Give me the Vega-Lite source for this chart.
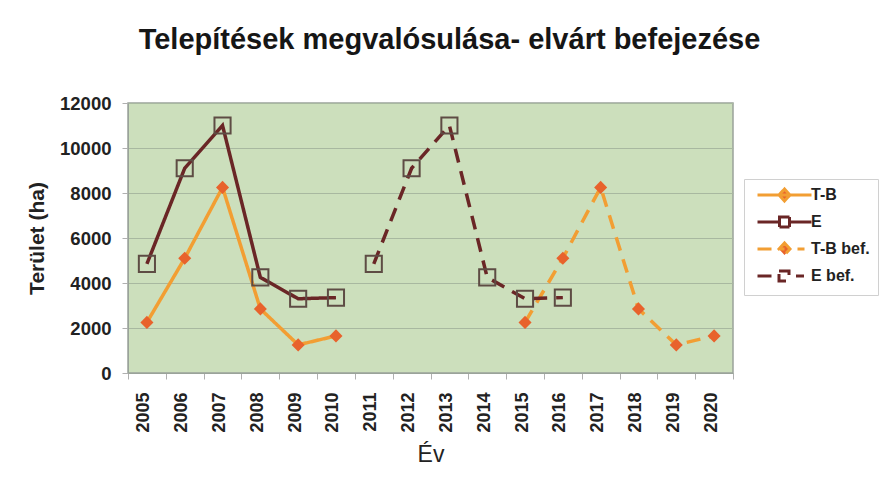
{
  "$schema": "https://vega.github.io/schema/vega-lite/v6.json",
  "width": 605,
  "height": 270,
  "autosize": "none",
  "padding": {"left": 128, "top": 103, "right": 150, "bottom": 104},
  "background": "white",
  "title": {
    "text": "Telepítések megvalósulása- elvárt befejezése",
    "font": "Liberation Sans",
    "fontSize": 29,
    "fontWeight": "bold",
    "color": "#161616",
    "anchor": "middle",
    "baseline": "alphabetic",
    "offset": 16,
    "dx": 19
  },
  "config": {
    "view": {"fill": "#CCDFBC", "stroke": "#9AA39A", "strokeWidth": 1.5},
    "font": "Liberation Sans"
  },
  "data": {
    "values": [
      {"year": "2005", "series": "T-B", "value": 2250},
      {"year": "2006", "series": "T-B", "value": 5100},
      {"year": "2007", "series": "T-B", "value": 8250},
      {"year": "2008", "series": "T-B", "value": 2850},
      {"year": "2009", "series": "T-B", "value": 1250},
      {"year": "2010", "series": "T-B", "value": 1650},
      {"year": "2005", "series": "E", "value": 4850},
      {"year": "2006", "series": "E", "value": 9100},
      {"year": "2007", "series": "E", "value": 11000},
      {"year": "2008", "series": "E", "value": 4250},
      {"year": "2009", "series": "E", "value": 3300},
      {"year": "2010", "series": "E", "value": 3350},
      {"year": "2015", "series": "T-B bef.", "value": 2250},
      {"year": "2016", "series": "T-B bef.", "value": 5100},
      {"year": "2017", "series": "T-B bef.", "value": 8250},
      {"year": "2018", "series": "T-B bef.", "value": 2850},
      {"year": "2019", "series": "T-B bef.", "value": 1250},
      {"year": "2020", "series": "T-B bef.", "value": 1650},
      {"year": "2011", "series": "E bef.", "value": 4850},
      {"year": "2012", "series": "E bef.", "value": 9100},
      {"year": "2013", "series": "E bef.", "value": 11000},
      {"year": "2014", "series": "E bef.", "value": 4250},
      {"year": "2015", "series": "E bef.", "value": 3300},
      {"year": "2016", "series": "E bef.", "value": 3350}
    ]
  },
  "encoding": {
    "x": {
      "field": "year",
      "type": "ordinal",
      "bandPosition": 0.5,
      "scale": {
        "type": "band",
        "paddingInner": 0,
        "paddingOuter": 0,
        "domain": ["2005","2006","2007","2008","2009","2010","2011","2012","2013","2014","2015","2016","2017","2018","2019","2020"]
      },
      "axis": {
        "title": "Év",
        "titleFont": "Liberation Sans",
        "titleFontSize": 23,
        "titleFontWeight": "normal",
        "titleColor": "#222222",
        "titlePadding": 11,
        "labelAngle": 270,
        "labelFont": "Liberation Sans",
        "labelFontSize": 18,
        "labelFontWeight": "bold",
        "labelColor": "#222222",
        "labelPadding": 13,
        "labelOffset": -3,
        "tickBand": "extent",
        "tickColor": "#B0B0B0",
        "tickSize": 6,
        "domainColor": "#9AA39A",
        "grid": false
      }
    },
    "y": {
      "field": "value",
      "type": "quantitative",
      "scale": {"domain": [0, 12000], "nice": false},
      "axis": {
        "title": "Terület (ha)",
        "titleFont": "Liberation Sans",
        "titleFontSize": 21,
        "titleFontWeight": "bold",
        "titleColor": "#222222",
        "titlePadding": 12,
        "values": [0, 2000, 4000, 6000, 8000, 10000, 12000],
        "format": "d",
        "labelFont": "Liberation Sans",
        "labelFontSize": 18.5,
        "labelFontWeight": "bold",
        "labelColor": "#222222",
        "labelPadding": 11,
        "tickColor": "#B0B0B0",
        "tickSize": 6,
        "domainColor": "#9AA39A",
        "grid": true,
        "gridColor": "#A8B8A0",
        "gridWidth": 1
      }
    }
  },
  "layer": [
    {
      "mark": {"type": "line", "strokeWidth": 3.5},
      "encoding": {
        "stroke": {
          "field": "series",
          "type": "nominal",
          "scale": {
            "domain": ["T-B", "E", "T-B bef.", "E bef."],
            "range": ["#F29E33", "#6A2626", "#F29E33", "#6A2626"]
          }
        },
        "strokeDash": {
          "field": "series",
          "type": "nominal",
          "scale": {
            "domain": ["T-B", "E", "T-B bef.", "E bef."],
            "range": [[1, 0], [1, 0], [14, 9], [14, 9]]
          },
          "legend": null
        }
      }
    },
    {
      "transform": [{"filter": {"field": "series", "oneOf": ["T-B", "T-B bef."]}}],
      "mark": {"type": "point", "shape": "diamond", "filled": true, "color": "#E8622C", "size": 170, "opacity": 1}
    },
    {
      "transform": [{"filter": {"field": "series", "oneOf": ["E", "E bef."]}}],
      "mark": {"type": "point", "shape": "square", "filled": false, "stroke": "#5E4C44", "strokeWidth": 2, "size": 260, "opacity": 1}
    },
    {
      "transform": [{"filter": "false"}],
      "mark": {"type": "point", "strokeWidth": 3, "opacity": 1, "size": 25},
      "encoding": {
        "stroke": {
          "field": "series",
          "type": "nominal",
          "legend": {
            "title": null,
            "orient": "none",
            "legendX": 616,
            "legendY": 76,
            "symbolSize": 25,
            "symbolStrokeWidth": 3,
            "symbolOpacity": 1,
            "labelFont": "Liberation Sans",
            "labelFontSize": 16,
            "labelFontWeight": "bold",
            "labelColor": "#222222",
            "labelOffset": 43,
            "rowPadding": 4,
            "padding": 8,
            "strokeColor": "#D0D0D0",
            "fillColor": "white"
          }
        },
        "fill": {
          "field": "series",
          "type": "nominal",
          "scale": {
            "domain": ["T-B", "E", "T-B bef.", "E bef."],
            "range": ["#E8622C", "#FFFFFF", "#E8622C", "#FFFFFF"]
          }
        },
        "shape": {
          "field": "series",
          "type": "nominal",
          "scale": {
            "domain": ["T-B", "E", "T-B bef.", "E bef."],
            "range": [
              "M-1,0H20.6M9.8,-2.4L12,0L9.8,2.4L7.6,0Z",
              "M-1,0H7.8M11.8,0H20.6M7.8,-2H11.8V2H7.8Z",
              "M-1,0H9.8M9.8,-2.4L12,0L9.8,2.4L7.6,0ZM15,0H17.8",
              "M-1,0H7.6M7.6,-2H11.6V2H7.6ZM14.4,0H17.6"
            ]
          }
        }
      }
    }
  ]
}
